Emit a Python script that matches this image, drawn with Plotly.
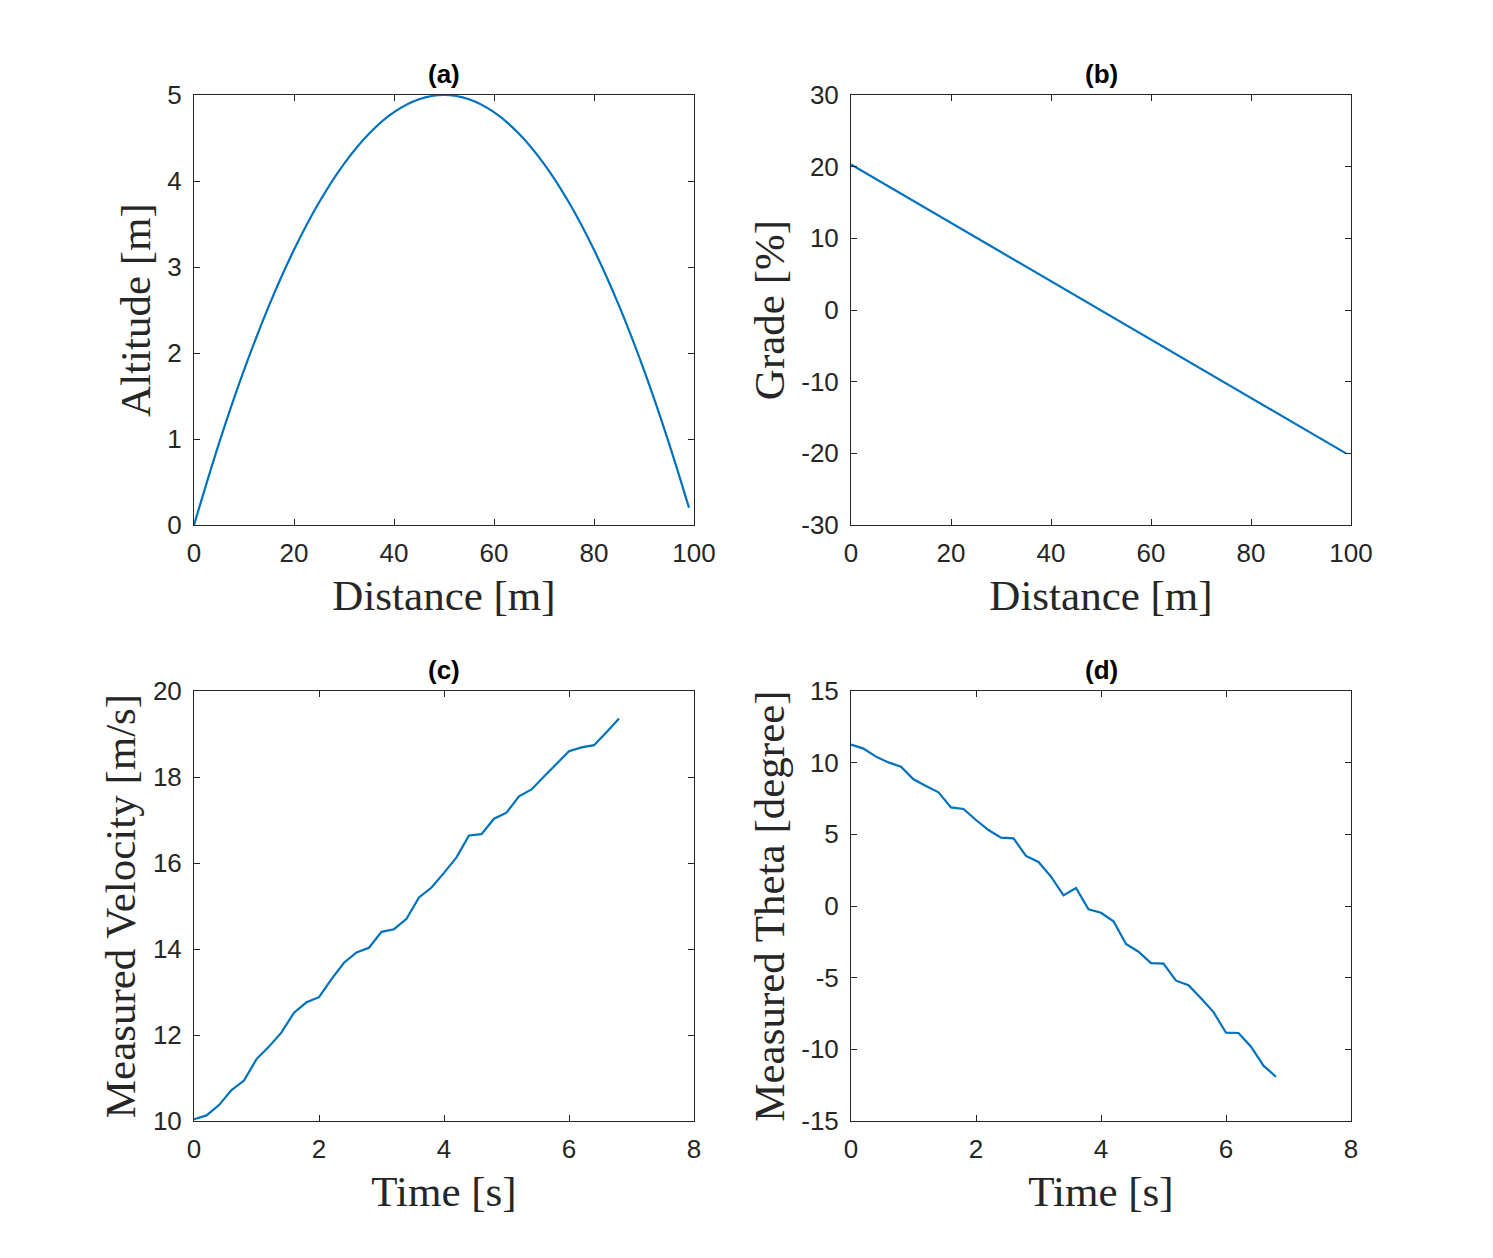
import plotly.graph_objects as go

# ---------------- data ----------------
distance_alt = [0, 5, 10, 15, 20, 25, 30, 35, 40, 45, 50, 55, 60, 65, 70, 75, 80, 85, 90, 95, 99]
altitude = [0.0, 0.95, 1.8, 2.55, 3.2, 3.75, 4.2, 4.55, 4.8, 4.95, 5.0, 4.95, 4.8, 4.55, 4.2,
            3.75, 3.2, 2.55, 1.8, 0.95, 0.2]

distance_grade = [0, 20, 40, 60, 80, 99]
grade = [20.3, 12.16, 4.02, -4.1, -12.26, -20.0]

time_s = [0.0, 0.2, 0.4, 0.6, 0.8, 1.0, 1.2, 1.4, 1.6, 1.8, 2.0, 2.2, 2.4, 2.6, 2.8, 3.0, 3.2,
          3.4, 3.6, 3.8, 4.0, 4.2, 4.4, 4.6, 4.8, 5.0, 5.2, 5.4, 5.6, 5.8, 6.0, 6.2, 6.4, 6.6, 6.8]
velocity = [10.04, 10.13, 10.37, 10.72, 10.94, 11.44, 11.73, 12.06, 12.52, 12.76, 12.88, 13.30,
            13.68, 13.92, 14.03, 14.40, 14.46, 14.70, 15.20, 15.43, 15.77, 16.13, 16.64, 16.67,
            17.03, 17.17, 17.55, 17.71, 18.01, 18.30, 18.60, 18.69, 18.74, 19.04, 19.36]
theta = [11.26, 10.98, 10.42, 10.02, 9.72, 8.84, 8.37, 7.93, 6.88, 6.77, 6.00, 5.30, 4.77, 4.72,
         3.49, 3.07, 2.05, 0.74, 1.26, -0.23, -0.47, -1.07, -2.65, -3.19, -3.98, -4.02, -5.21,
         -5.53, -6.44, -7.40, -8.84, -8.86, -9.82, -11.14, -11.91]

panel_titles = ["(a)", "(b)", "(c)", "(d)"]
x_titles = ["Distance [m]", "Distance [m]", "Time [s]", "Time [s]"]
y_titles = ["Altitude [m]", "Grade [%]", "Measured Velocity [m/s]", "Measured Theta [degree]"]

x_ticks_dist = [0, 20, 40, 60, 80, 100]
x_ticks_time = [0, 2, 4, 6, 8]
y_ticks_a = [0, 1, 2, 3, 4, 5]
y_ticks_b = [-30, -20, -10, 0, 10, 20, 30]
y_ticks_c = [10, 12, 14, 16, 18, 20]
y_ticks_d = [-15, -10, -5, 0, 5, 10, 15]

# ---------------- styling ----------------
W, H = 1493, 1258
OFF = 8  # page body margin compensation
LINE_COLOR = "#0072BD"
AX_COLOR = "#262626"
TICK_FONT = dict(family="Liberation Sans, Arial", size=26, color=AX_COLOR)
LABEL_FONT = dict(family="Liberation Serif, Times New Roman", size=43, color=AX_COLOR)
TITLE_FONT = dict(family="Liberation Sans, Arial", size=26, color="black")

def xd(a, b):
    return [(a - OFF) / W, (b - OFF) / W]

def yd(top, bottom):
    return [1 - (bottom - OFF) / H, 1 - (top - OFF) / H]

xdoms = [xd(194, 694), xd(851, 1351)]
ydoms = [yd(95, 525), yd(691, 1121)]

panels = [
    dict(x=distance_alt, y=altitude, xd=xdoms[0], yd=ydoms[0], xr=[0, 100], yr=[0, 5],
         xt=x_ticks_dist, yt=y_ticks_a, shape="spline"),
    dict(x=distance_grade, y=grade, xd=xdoms[1], yd=ydoms[0], xr=[0, 100], yr=[-30, 30],
         xt=x_ticks_dist, yt=y_ticks_b, shape="linear"),
    dict(x=time_s, y=velocity, xd=xdoms[0], yd=ydoms[1], xr=[0, 8], yr=[10, 20],
         xt=x_ticks_time, yt=y_ticks_c, shape="linear"),
    dict(x=time_s, y=theta, xd=xdoms[1], yd=ydoms[1], xr=[0, 8], yr=[-15, 15],
         xt=x_ticks_time, yt=y_ticks_d, shape="linear"),
]

fig = go.Figure()
layout = dict(
    width=W, height=H,
    margin=dict(l=0, r=0, t=0, b=0),
    paper_bgcolor="white", plot_bgcolor="white",
    showlegend=False,
    annotations=[],
)

for i, p in enumerate(panels):
    n = "" if i == 0 else str(i + 1)
    fig.add_trace(go.Scatter(
        x=p["x"], y=p["y"], mode="lines",
        line=dict(color=LINE_COLOR, width=2.2, shape=p["shape"]),
        xaxis="x" + n, yaxis="y" + n, hoverinfo="skip",
    ))
    common = dict(
        showline=True, linecolor=AX_COLOR, linewidth=1, mirror="ticks",
        ticks="inside", ticklen=6, tickwidth=1, tickcolor=AX_COLOR,
        showgrid=False, zeroline=False, tickfont=TICK_FONT, automargin=False,
    )
    layout["xaxis" + n] = dict(
        common, domain=p["xd"], range=p["xr"], anchor="y" + n,
        tickvals=p["xt"], ticktext=[str(v) for v in p["xt"]],
        ticklabelstandoff=5,
        title=dict(text=x_titles[i], font=LABEL_FONT, standoff=12),
    )
    layout["yaxis" + n] = dict(
        common, domain=p["yd"], range=p["yr"], anchor="x" + n,
        tickvals=p["yt"], ticktext=[str(v) for v in p["yt"]],
        ticklabelstandoff=6,
        title=dict(text=y_titles[i], font=LABEL_FONT, standoff=3),
    )
    layout["annotations"].append(dict(
        text="<b>" + panel_titles[i] + "</b>", xref="paper", yref="paper",
        x=(p["xd"][0] + p["xd"][1]) / 2, y=p["yd"][1],
        xanchor="center", yanchor="bottom", yshift=4,
        showarrow=False, font=TITLE_FONT,
    ))

fig.update_layout(**layout)
fig.write_html("out.html")
